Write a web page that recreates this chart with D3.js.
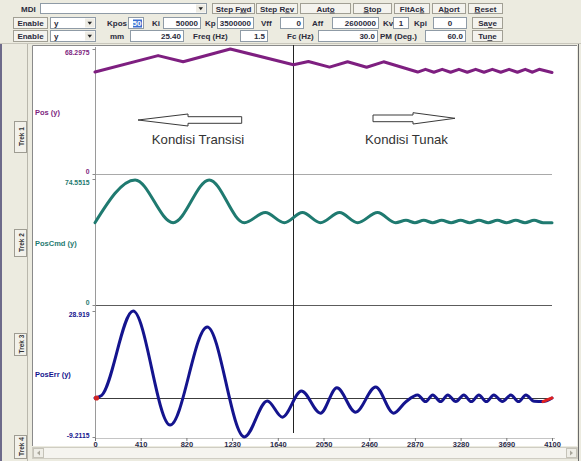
<!DOCTYPE html>
<html><head><meta charset="utf-8">
<script src="https://cdn.jsdelivr.net/npm/d3@7"></script>
<style>body{margin:0;background:#ECEBE0;}svg{display:block;}</style>
</head><body>
<svg id="c" width="581" height="461"></svg>
<script>
// ---------------- DATA ----------------
const xTicks=[0,410,820,1230,1640,2050,2460,2870,3280,3690,4100];
const panelNames=["Pos (y)","PosCmd (y)","PosErr (y)"];
const panelMin=[0,0,-9.2115];
const panelMax=[68.2975,74.5515,28.919];
const yLabelsBot=["0","0","-9.2115"];
const yLabelsTop=["68.2975","74.5515","28.919"];
const errRef=2.6;
const markerX=1776;
const tabLabels=["Trek 1","Trek 2","Trek 3","Trek 4"];

const posX=[0,566,791,1214,1780,1915,2104,2266,2437,2589,2895,2965,3040,3115,3190,3265,3340,3415,3490,3565,3640,3715,3790,3860,3925,3985,4100];
const posY=[55.7,64.7,61.3,68.3,59.7,61.5,58.4,61.3,58.3,61.3,55.7,57.2,55.6,57.2,55.6,57.2,55.6,57.2,55.6,57.2,55.6,57.2,55.6,57.2,55.6,57.2,55.5];

const cmdX=[0,360,701,1025,1340,1528,1699,1861,2023,2194,2356,2535,2697,2790,2870,2950,3030,3110,3195,3280,3362,3445,3528,3610,3692,3775,3858,3940,4020,4100];
const cmdY=[48.7,74.0,48.7,74.0,48.7,54.7,48.7,54.7,48.7,54.7,48.7,54.7,48.7,50.1,48.7,50.1,48.7,50.1,48.7,50.1,48.7,50.1,48.7,50.1,48.7,50.1,48.7,50.1,48.7,48.7];

const errX=[0,60,342,674,1007,1340,1546,1681,1852,2023,2170,2338,2518,2679,2787,2895,2965,3030,3100,3165,3237,3309,3376,3444,3511,3578,3655,3731,3800,3866,3940,4019,4100];
const errY=[2.59,3.4,28.9,-5.6,24.1,-9.2,1.7,-3.2,4.7,-2.0,5.7,-1.7,5.9,-2.0,1.4,3.5,1.5,3.5,1.5,3.5,1.5,3.5,1.5,3.5,1.5,3.5,1.5,3.5,1.5,3.5,1.6,1.5,2.6];
const errRedFrom=4019;

// toolbar contents (text)
const row1Buttons=[["Step F","w","d"],["Step R","e","v"],["Aut","o",""],["","S","top"],["FltAc","k",""],["A","b","ort"],["","R","eset"]];
const row2Labels=["Kpos","Ki","Kp","Vff","Aff","Kv","Kpi"];
const row2Values=["50","50000","3500000","0","2600000","1","0"];
const row3Labels=["mm","Freq (Hz)","Fc (Hz)","PM (Deg.)"];
const row3Values=["25.40","1.5","30.0","60.0"];

// ---------------- DRAW ----------------
const svg=d3.select("#c");
const W=581,H=461;
const uiFont="'Liberation Sans', Arial, sans-serif";
svg.append("rect").attr("width",W).attr("height",H).attr("fill","#ECEBE0");

const tb=svg.append("g").attr("font-family",uiFont).attr("font-weight","bold").attr("font-size",8).attr("fill","#2b2b3c");

function button(x0,x1,r,parts){
  tb.append("rect").attr("x",x0+0.5).attr("y",r[0]+0.5).attr("width",x1-x0-1).attr("height",r[1]-r[0]-1)
    .attr("fill","#F4F3EE").attr("stroke","#A19F94");
  const t=tb.append("text").attr("x",(x0+x1)/2).attr("y",(r[0]+r[1])/2+3).attr("text-anchor","middle");
  t.append("tspan").text(parts[0]);
  t.append("tspan").attr("text-decoration","underline").text(parts[1]);
  t.append("tspan").text(parts[2]);
}
function input(x0,x1,r,val,anchor){
  tb.append("rect").attr("x",x0+0.5).attr("y",r[0]+0.5).attr("width",x1-x0-1).attr("height",r[1]-r[0]-1)
    .attr("fill","#fff").attr("stroke","#8F9BA6");
  if(val!==undefined){
    const ax = anchor==="middle"?(x0+x1)/2:(anchor==="start"?x0+4:x1-3);
    tb.append("text").attr("x",ax).attr("y",(r[0]+r[1])/2+3).attr("text-anchor",anchor||"end").text(val);
  }
}
function combo(x0,x1,r,val){
  input(x0,x1,r);
  tb.append("text").attr("x",x0+4).attr("y",(r[0]+r[1])/2+3).text(val);
  const bx=x1-11;
  tb.append("rect").attr("x",bx).attr("y",r[0]+1.5).attr("width",9.5).attr("height",r[1]-r[0]-3).attr("fill","#EDEBE3");
  const cy=(r[0]+r[1])/2;
  tb.append("path").attr("d",`M${bx+2.5},${cy-1.2}L${bx+7},${cy-1.2}L${bx+4.75},${cy+1.8}Z`).attr("fill","#222");
}
function lab(x,r,txt,anchor){
  tb.append("text").attr("x",x).attr("y",(r[0]+r[1])/2+3).attr("text-anchor",anchor||"start").text(txt);
}
const row1=[3,14],row2=[17,29],row3=[30,42];
// row 1
lab(21,row1,"MDI");
combo(40,207,row1,"");
const b1=[[212,255],[256,298],[300,351],[353,392],[394,430],[432,466],[468,503]];
row1Buttons.forEach((p,i)=>button(b1[i][0],b1[i][1],row1,p));
// row 2
button(13,48,row2,["Enable","",""]);
combo(50,96,row2,"y");
const l2=[107,152,205,261,312,383,414];
row2Labels.forEach((t,i)=>lab(l2[i],row2,t));
const in2=[[128,144],[163,201],[217,254],[280,304],[332,379],[393,409],[433,467]];
row2Values.forEach((v,i)=>{
  if(i===0){
    input(in2[i][0],in2[i][1],row2);
    tb.append("rect").attr("x",133).attr("y",19.5).attr("width",9).attr("height",8).attr("fill","#3B6FD0");
    tb.append("text").attr("x",141.5).attr("y",26).attr("text-anchor","end").attr("fill","#fff").text(v);
  } else if(i>=5){ input(in2[i][0],in2[i][1],row2,v,"middle"); }
  else input(in2[i][0],in2[i][1],row2,v,"end");
});
button(472,503,row2,["Sa","v","e"]);
// row 3
button(13,48,row3,["Enable","",""]);
combo(50,96,row3,"y");
const l3=[110,193,287,380];
row3Labels.forEach((t,i)=>lab(l3[i],row3,t));
const in3=[[130,184],[240,268],[318,378],[425,466]];
row3Values.forEach((v,i)=>input(in3[i][0],in3[i][1],row3,v,"end"));
button(472,503,row3,["Tu","n","e"]);

// separator under toolbar
svg.append("line").attr("x1",0).attr("x2",W).attr("y1",43.5).attr("y2",43.5).attr("stroke","#C9C7BC");

// left tab strip
const tabG=svg.append("g");
tabG.append("line").attr("x1",1).attr("x2",1).attr("y1",44).attr("y2",H).attr("stroke","#6d6a8a").attr("stroke-width",2);
const tabY=[[121,152],[229,256],[333,355],[435,458]];
tabLabels.forEach((t,i)=>{
  const [a,b]=tabY[i];
  tabG.append("rect").attr("x",14.5).attr("y",a+0.5).attr("width",12).attr("height",b-a).attr("fill","#F2F1EA").attr("stroke","#9E9C92");
  tabG.append("text").attr("transform",`translate(23.5,${(a+b)/2}) rotate(-90)`).attr("text-anchor","middle")
    .attr("font-family",uiFont).attr("font-size",6.5).attr("font-weight","bold").attr("fill","#333").text(t);
});
tabG.append("line").attr("x1",27.5).attr("x2",27.5).attr("y1",44).attr("y2",H).attr("stroke","#B9B7AC");

// white plot panel
svg.append("rect").attr("x",32).attr("y",45).attr("width",545).attr("height",401).attr("fill","#fff");
svg.append("path").attr("d","M32.5,446V45.5H577").attr("fill","none").attr("stroke","#8a8a8a");
svg.append("line").attr("x1",578.5).attr("x2",578.5).attr("y1",44).attr("y2",H).attr("stroke","#6a6a6a");

// scrollbar
svg.append("rect").attr("x",32.5).attr("y",447.5).attr("width",545).attr("height",11).attr("fill","#F5F4EF").attr("stroke","#CFCDC3");
[[33,-1],[566,1]].forEach(([bx,dir])=>{
  svg.append("rect").attr("x",bx+0.5).attr("y",448.5).attr("width",10).attr("height",9).attr("fill","#EFEEE7").attr("stroke","#C5C3B8");
  const cx=bx+5.5,cy=453;
  svg.append("path").attr("d",dir<0?`M${cx+1.5},${cy-2.5}L${cx-1.5},${cy}L${cx+1.5},${cy+2.5}Z`:`M${cx-1.5},${cy-2.5}L${cx+1.5},${cy}L${cx-1.5},${cy+2.5}Z`).attr("fill","#A9A79C");
});

// scales
const x=d3.scaleLinear().domain([0,4100]).range([95,552]);
const yRanges=[[174,49],[305,179],[437,311]];
const ys=panelMin.map((m,i)=>d3.scaleLinear().domain([m,panelMax[i]]).range(yRanges[i]));
const colors=["#7E1F80","#1F7A70","#14148E"];

const plot=svg.append("g");
// grid/reference lines
plot.append("line").attr("x1",95).attr("x2",552).attr("y1",ys[0](0)+0.5).attr("y2",ys[0](0)+0.5).attr("stroke","#A9A9A9");
plot.append("line").attr("x1",95).attr("x2",552).attr("y1",ys[1](0)+0.5).attr("y2",ys[1](0)+0.5).attr("stroke","#5c5c5c");
plot.append("line").attr("x1",95).attr("x2",552).attr("y1",Math.round(ys[2](errRef))+0.5).attr("y2",Math.round(ys[2](errRef))+0.5).attr("stroke","#3c3c3c");
plot.append("line").attr("x1",95).attr("x2",555).attr("y1",438.5).attr("y2",438.5).attr("stroke","#C4C4C4");
plot.append("line").attr("x1",95.5).attr("x2",95.5).attr("y1",47).attr("y2",438).attr("stroke","#9a9a9a");

// y axes
ys.forEach((y,i)=>{
  const ax=d3.axisLeft(y).tickValues([panelMin[i],panelMax[i]]).tickSize(3).tickSizeOuter(0).tickPadding(3)
    .tickFormat(d=>d===panelMax[i]?yLabelsTop[i]:yLabelsBot[i]);
  const g=plot.append("g").attr("transform","translate(95.5,0)").call(ax);
  g.select(".domain").remove();
  g.selectAll("line").attr("stroke","#8a8a8a");
  g.selectAll("text").attr("font-family",uiFont).attr("font-weight","bold").attr("font-size",6.8).attr("fill",colors[i])
    .attr("dy",d=>d===panelMax[i]?"0.75em":(i<2?"-0.05em":"0.1em"));
});
// panel names
const nameY=[115,246,377];
panelNames.forEach((t,i)=>plot.append("text").attr("x",35).attr("y",nameY[i]).attr("font-family",uiFont)
  .attr("font-weight","bold").attr("font-size",7.5).attr("fill",colors[i]).text(t));

// x axis
const xa=plot.append("g").attr("transform","translate(0,438)").call(d3.axisBottom(x).tickValues(xTicks).tickFormat(d3.format("d")).tickSize(3).tickSizeOuter(0).tickPadding(1));
xa.select(".domain").remove();
xa.selectAll("line").attr("stroke","#777");
xa.selectAll("text").attr("font-family",uiFont).attr("font-weight","bold").attr("font-size",7.5).attr("fill","#2a2a48");

// marker line
plot.append("line").attr("x1",Math.round(x(markerX))+0.5).attr("x2",Math.round(x(markerX))+0.5).attr("y1",45).attr("y2",433).attr("stroke","#222");

// traces
const series=[[posX,posY,d3.curveLinear],[cmdX,cmdY,d3.curveMonotoneX],[errX,errY,d3.curveMonotoneX]];
series.forEach(([xs,vs,curve],i)=>{
  const pts=xs.map((v,k)=>[v,vs[k]]);
  const line=d3.line().x(d=>x(d[0])).y(d=>ys[i](d[1])).curve(curve);
  plot.append("path").attr("d",line(pts)).attr("fill","none").attr("stroke",colors[i])
    .attr("stroke-width",3).attr("stroke-linejoin","round").attr("stroke-linecap","round");
  if(i===2){
    const red=pts.filter(d=>d[0]>=errRedFrom);
    plot.append("path").attr("d",line(red)).attr("fill","none").attr("stroke","#E02020")
      .attr("stroke-width",3).attr("stroke-linecap","round");
    plot.append("circle").attr("cx",x(pts[0][0])+1.5).attr("cy",ys[2](pts[0][1])).attr("r",2.6).attr("fill","#D02424");
  }
});

// annotations
const ann=svg.append("g").attr("fill","#fff").attr("stroke","#3a3a3a").attr("stroke-width",1);
ann.append("path").attr("d","M138,120L188,114L188,116.7L241.7,116.7L241.7,123.3L188,123.3L188,126Z");
ann.append("path").attr("d","M373,115L413,115L413,112.7L455,118.3L413,124L413,121.7L373,121.7Z");
const at=svg.append("g").attr("font-family",uiFont).attr("font-size",13.2).attr("fill","#333").attr("text-anchor","middle");
at.append("text").attr("x",198).attr("y",144).text("Kondisi Transisi");
at.append("text").attr("x",406.5).attr("y",144).text("Kondisi Tunak");
</script>
</body></html>
